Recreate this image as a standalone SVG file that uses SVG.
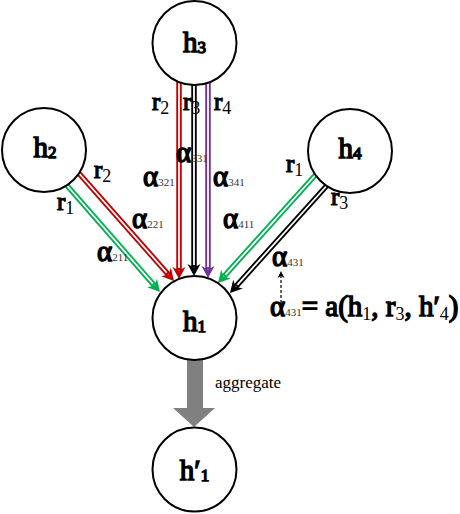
<svg xmlns="http://www.w3.org/2000/svg" width="460" height="514" viewBox="0 0 460 514">
<style>
.t{font-family:"Liberation Serif","Times New Roman",serif;fill:#000}
.k{stroke:#000;stroke-width:1.2;paint-order:stroke}
.r{font-size:25px}
.d{font-size:18px;stroke:none}
.a{font-size:29px;stroke-width:1.4}
.s{font-size:11px;stroke:none;fill:#333}
.node{fill:#fff;stroke:#000;stroke-width:2}
.nl{font-size:29px;text-anchor:middle;stroke:#000;stroke-width:1.4;paint-order:stroke}
.ns{font-size:17px}
.o{fill:none;stroke-width:5.5}
.w{fill:none;stroke:#fff;stroke-width:1.8}
</style>
<defs>
<marker id="mr" markerUnits="userSpaceOnUse" orient="auto" refX="0" refY="0" markerWidth="20" markerHeight="20" overflow="visible"><path d="M-3,-6.5 L9,0 L-3,6.5 L0.5,0 Z" fill="#c00000"/></marker>
<marker id="mk" markerUnits="userSpaceOnUse" orient="auto" refX="0" refY="0" markerWidth="20" markerHeight="20" overflow="visible"><path d="M-3,-6.5 L9,0 L-3,6.5 L0.5,0 Z" fill="#000"/></marker>
<marker id="mp" markerUnits="userSpaceOnUse" orient="auto" refX="0" refY="0" markerWidth="20" markerHeight="20" overflow="visible"><path d="M-3,-6.5 L9,0 L-3,6.5 L0.5,0 Z" fill="#7030a0"/></marker>
<marker id="mg" markerUnits="userSpaceOnUse" orient="auto" refX="0" refY="0" markerWidth="20" markerHeight="20" overflow="visible"><path d="M-3,-6.5 L9,0 L-3,6.5 L0.5,0 Z" fill="#00b050"/></marker>
<marker id="ms" markerUnits="userSpaceOnUse" orient="auto" refX="0" refY="0" markerWidth="10" markerHeight="10" overflow="visible"><path d="M-2,-3.5 L5,0 L-2,3.5 L0,0 Z" fill="#000"/></marker>
</defs>
<g id="connectors">
<line class="o" stroke="#c00000" x1="179" y1="80" x2="179" y2="270" marker-end="url(#mr)"/>
<line class="w" x1="179" y1="80" x2="179" y2="268"/>
<line class="o" stroke="#000" x1="194" y1="80" x2="194" y2="267" marker-end="url(#mk)"/>
<line class="w" x1="194" y1="80" x2="194" y2="265"/>
<line class="o" stroke="#7030a0" x1="208" y1="80" x2="208" y2="269" marker-end="url(#mp)"/>
<line class="w" x1="208" y1="80" x2="208" y2="267"/>
<line class="o" stroke="#c00000" x1="76" y1="170" x2="168.05" y2="274.25" marker-end="url(#mr)"/>
<line class="w" x1="76" y1="170" x2="166.7" y2="272.75"/>
<line class="o" stroke="#00b050" x1="63" y1="181" x2="154.08" y2="285.22" marker-end="url(#mg)"/>
<line class="w" x1="63" y1="181" x2="152.77" y2="283.71"/>
<line class="o" stroke="#00b050" x1="319" y1="171" x2="224.02" y2="276.31" marker-end="url(#mg)"/>
<line class="w" x1="319" y1="171" x2="225.36" y2="274.83"/>
<line class="o" stroke="#000" x1="331" y1="181" x2="236.02" y2="286.31" marker-end="url(#mk)"/>
<line class="w" x1="331" y1="181" x2="237.36" y2="284.83"/>
<line x1="281" y1="303" x2="281" y2="276" stroke="#000" stroke-width="1.2" stroke-dasharray="3,2" marker-end="url(#ms)"/>
<rect x="187" y="360" width="16" height="48" fill="#808080"/>
<polygon points="173,408 215,408 194,427" fill="#808080"/>
</g>
<g id="h3"><circle class="node" cx="194.5" cy="43" r="42"/><text class="t nl" x="194.5" y="52">h<tspan class="ns" dy="1">3</tspan></text></g>
<g id="h2"><circle class="node" cx="44" cy="150" r="42"/><text class="t nl" x="45" y="157">h<tspan class="ns" dy="1">2</tspan></text></g>
<g id="h4"><circle class="node" cx="350" cy="151" r="42"/><text class="t nl" x="350" y="158">h<tspan class="ns" dy="1">4</tspan></text></g>
<g id="h1"><circle class="node" cx="194.5" cy="318" r="42"/><text class="t nl" x="194.5" y="331">h<tspan class="ns" dy="1">1</tspan></text></g>
<g id="h1p"><circle class="node" cx="194.5" cy="469.5" r="42"/><text class="t nl" x="194.5" y="480">h′<tspan class="ns" dy="1">1</tspan></text></g>
<g id="labels">
<text class="t k r" x="152" y="110">r<tspan class="d" dy="4">2</tspan></text>
<text class="t k r" x="183" y="110">r<tspan class="d" dy="4">3</tspan></text>
<text class="t k r" x="214" y="110">r<tspan class="d" dy="4">4</tspan></text>
<text class="t k r" x="94" y="178">r<tspan class="d" dy="4">2</tspan></text>
<text class="t k r" x="57" y="210">r<tspan class="d" dy="4">1</tspan></text>
<text class="t k r" x="286" y="172">r<tspan class="d" dy="4">1</tspan></text>
<text class="t k r" x="331" y="205">r<tspan class="d" dy="4">3</tspan></text>
<text class="t k a" x="176" y="162">α<tspan class="s">331</tspan></text>
<text class="t k a" x="143" y="186">α<tspan class="s">321</tspan></text>
<text class="t k a" x="213" y="186">α<tspan class="s">341</tspan></text>
<text class="t k a" x="132" y="228">α<tspan class="s">221</tspan></text>
<text class="t k a" x="97" y="261">α<tspan class="s">211</tspan></text>
<text class="t k a" x="223" y="228">α<tspan class="s">411</tspan></text>
<text class="t k a" x="272" y="266">α<tspan class="s">431</tspan></text>
<text class="t k a" x="270" y="316">α<tspan class="s">431</tspan>= a(h<tspan class="d" dy="4">1</tspan><tspan dy="-4">, r</tspan><tspan class="d" dy="4">3</tspan><tspan dy="-4">, h′</tspan><tspan class="d" dy="4">4</tspan><tspan dy="-4">)</tspan></text>
<text class="t" x="215" y="388" style="font-size:17px">aggregate</text>
</g>
</svg>
